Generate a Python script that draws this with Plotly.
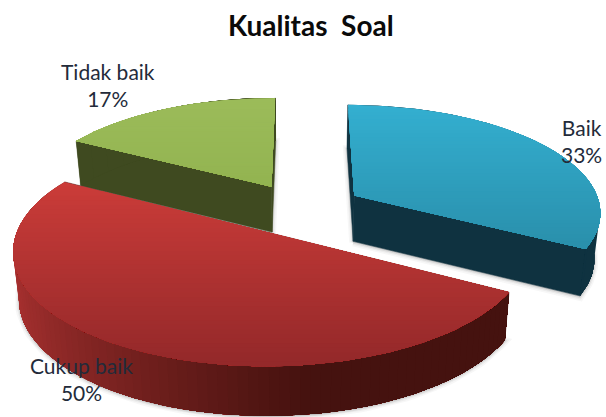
import numpy as np
import plotly.graph_objects as go

title = "Kualitas  Soal"
categories = ["Baik", "Cukup baik", "Tidak baik"]
shares = [33, 50, 17]

# styling
top_colors = [("#34AFD0", "#2A90AC"), ("#CB3C39", "#94292A"), ("#9CBC5A", "#93B451")]
rim_colors = [("#113543", "#0F3240"), ("#A83130", "#45120F"), ("#3F4A20", "#3F4A20")]
label_anchor = {"Baik": (581, 141), "Cukup baik": (81, 379), "Tidak baik": (108, 85)}

# projection settings (oblique perspective view of a unit pie)
CX, CY, A, B, K = 302.0, 209.0, 247.0, 107.0, 0.14
EXPLODE, DEPTH = 0.25, 46.0


def project(X, Y):
    w = 1 - K * Y
    return CX + A * X / w, CY + B * Y / w


def lower(x, y, Y):
    w = 1 - K * Y
    return x + (CX - x) * 0.02, y + DEPTH / w ** 0.4


def hex2rgb(h):
    return np.array([int(h[i:i + 2], 16) for i in (1, 3, 5)], float)


def mix(c1, c2, t):
    c = hex2rgb(c1) * (1 - t) + hex2rgb(c2) * t
    return "rgb(%d,%d,%d)" % tuple(c)


def clip(xs, ys, lo, hi):
    pts = list(zip(xs, ys))
    for bound, keep_above in ((lo, True), (hi, False)):
        out = []
        for i in range(len(pts)):
            p, q = pts[i], pts[(i + 1) % len(pts)]
            pin = p[1] >= bound if keep_above else p[1] <= bound
            qin = q[1] >= bound if keep_above else q[1] <= bound
            if pin:
                out.append(p)
            if pin != qin:
                t = (bound - p[1]) / (q[1] - p[1])
                out.append((p[0] + t * (q[0] - p[0]), bound))
        pts = out
        if not pts:
            return [], []
    return [p[0] for p in pts], [p[1] for p in pts]


fig = go.Figure()


def poly(xs, ys, color, lw=0.0, line=None):
    fig.add_trace(go.Scatter(
        x=list(xs) + [xs[0]], y=list(ys) + [ys[0]], mode="lines", fill="toself",
        fillcolor=color, line=dict(color=line or color, width=lw),
        hoverinfo="skip", showlegend=False))


starts = np.cumsum([0] + shares[:-1]) / sum(shares) * 2 * np.pi
spans = np.array(shares) / sum(shares) * 2 * np.pi
geo = []
for s, sp in zip(starts, spans):
    mid = s + sp / 2
    ox, oy = EXPLODE * np.sin(mid), -EXPLODE * np.cos(mid)
    th = np.linspace(s, s + sp, 90)
    X, Y = ox + np.sin(th), oy - np.cos(th)
    ax, ay = project(ox, oy)
    x, y = project(X, Y)
    lx, ly = lower(x, y, Y)
    alx, aly = lower(ax, ay, oy)
    geo.append((ax, ay, x, y, lx, ly, alx, aly))

# soft shadows under each slice
for (ax, ay, x, y, lx, ly, alx, aly) in geo:
    sx, sy = [alx] + list(lx), [aly + 1] + list(ly + 1)
    for width, alpha in ((8, 0.04), (5, 0.06), (2.5, 0.10)):
        poly(sx, sy, "rgba(60,60,60,%.2f)" % alpha, lw=width,
             line="rgba(60,60,60,%.2f)" % alpha)

# paint back to front: green, blue, red
for idx in (2, 0, 1):
    ax, ay, x, y, lx, ly, alx, aly = geo[idx]
    c_left, c_right = rim_colors[idx]
    # radial walls
    wall = c_right if idx != 2 else c_left
    poly([ax, x[0], lx[0], alx], [ay, y[0], ly[0], aly], wall, lw=0.5)
    poly([ax, x[-1], lx[-1], alx], [ay, y[-1], ly[-1], aly], wall, lw=0.5)
    # rim, shaded from left to right: each piece overlaps the ones after it
    xmin, xmax = lx.min(), lx.max()
    n = len(x)
    for i in range(n - 1, 0, -1) if idx == 1 else range(0, n - 1, 8):
        t = (lx[i] - xmin) / (xmax - xmin)
        t = min(1.0, t * 1.7) ** 0.7
        j = np.arange(0, i + 1) if idx == 1 else np.arange(i, n)
        poly(list(x[j]) + list(lx[j][::-1]), list(y[j]) + list(ly[j][::-1]), mix(c_left, c_right, t))
    # top face, shaded from top to bottom: each band overlaps everything below it
    fx, fy = [ax] + list(x), [ay] + list(y)
    ymin, ymax = min(fy), max(fy)
    edges = np.linspace(ymin, ymax, 41)
    for j in range(40):
        bx, by = clip(fx, fy, edges[j], ymax + 1)
        if bx:
            poly(bx, by, mix(top_colors[idx][0], top_colors[idx][1], j / 39))

# labels
for cat, val in zip(categories, shares):
    px, py = label_anchor[cat]
    fig.add_annotation(x=px, y=py, text=f"{cat}<br>{val}%", showarrow=False,
                       font=dict(family="Lato", size=21, color="#232B3A"),
                       align="center", xanchor="center", yanchor="middle")

fig.update_layout(
    width=606, height=417, margin=dict(l=0, r=0, t=0, b=0),
    paper_bgcolor="white", plot_bgcolor="white", showlegend=False,
    title=dict(text=f"<b>{title}</b>", x=0.513, y=0.938, xanchor="center", yanchor="middle",
               font=dict(family="Lato", size=28, color="#0A0A0A")),
    xaxis=dict(range=[0, 606], visible=False, fixedrange=True),
    yaxis=dict(range=[417, 0], visible=False, fixedrange=True),
)
fig.write_html("out.html", config={"displayModeBar": False},
               post_script="document.body.style.margin='0';document.documentElement.style.overflow='hidden';")
